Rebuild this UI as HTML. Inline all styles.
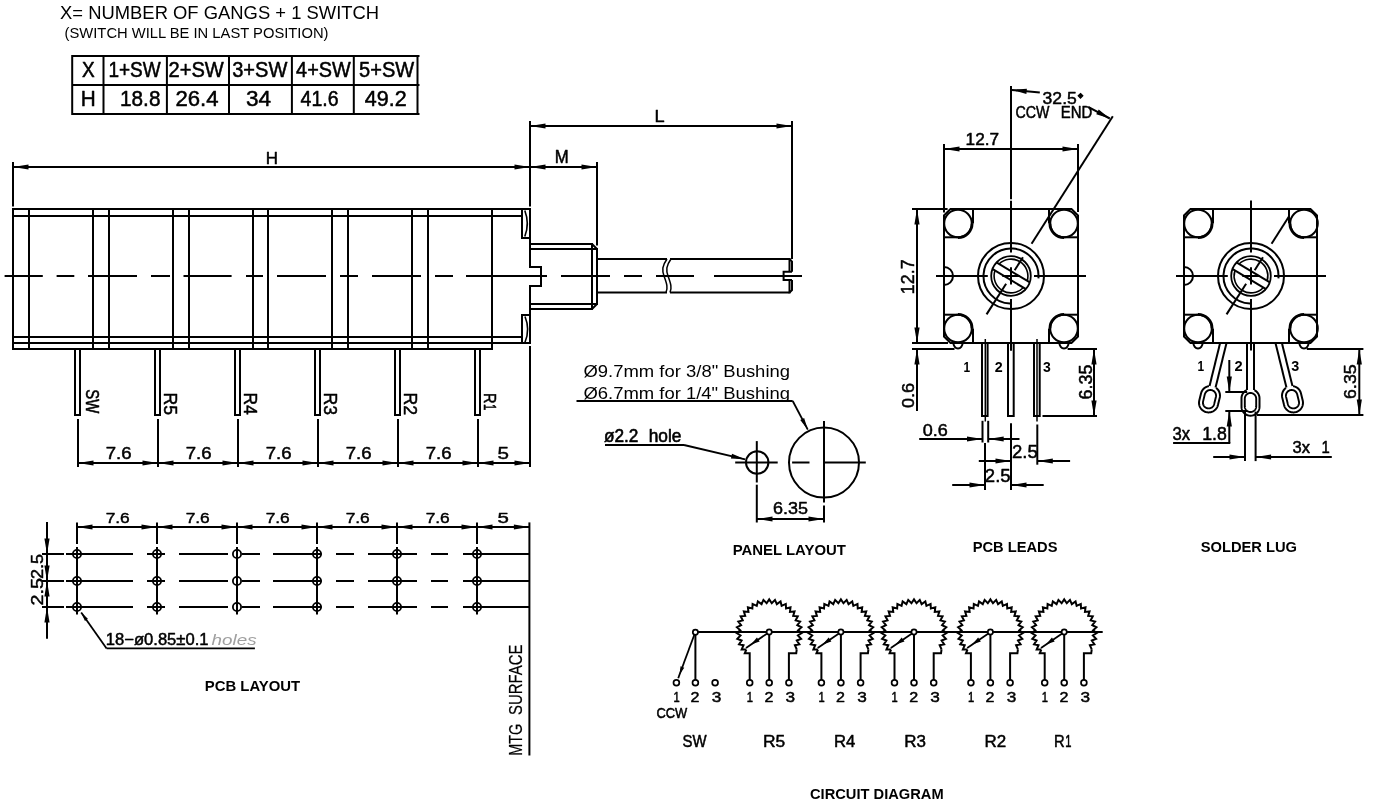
<!DOCTYPE html>
<html><head><meta charset="utf-8"><style>
html,body{margin:0;padding:0;background:#fff;width:1373px;height:811px;overflow:hidden}
svg{display:block;will-change:transform}
</style></head><body>
<svg width="1373" height="811" viewBox="0 0 1373 811">
<g stroke="#000" fill="none" stroke-linecap="butt">
<text transform="translate(60.05,18.50) scale(0.1841,0.1826)" font-family="Liberation Sans" font-size="100" fill="#000" stroke="none">X= NUMBER OF GANGS + 1 SWITCH</text>
<text transform="translate(64.61,38.20) scale(0.1476,0.1464)" font-family="Liberation Sans" font-size="100" fill="#000" stroke="none">(SWITCH WILL BE IN LAST POSITION)</text>
<line x1="72" y1="56" x2="419.5" y2="56" stroke-width="2"/>
<line x1="72" y1="85" x2="419.5" y2="85" stroke-width="2"/>
<line x1="72" y1="114" x2="419.5" y2="114" stroke-width="2"/>
<line x1="72.2" y1="55" x2="72.2" y2="115" stroke-width="2"/>
<line x1="103.5" y1="55" x2="103.5" y2="115" stroke-width="2"/>
<line x1="166.9" y1="55" x2="166.9" y2="115" stroke-width="2"/>
<line x1="229" y1="55" x2="229" y2="115" stroke-width="2"/>
<line x1="291.9" y1="55" x2="291.9" y2="115" stroke-width="2"/>
<line x1="353.8" y1="55" x2="353.8" y2="115" stroke-width="2"/>
<line x1="417.5" y1="55" x2="417.5" y2="115" stroke-width="2"/>
<text transform="translate(81.93,76.90) scale(0.1902,0.2145)" font-family="Liberation Sans" font-size="100" fill="#000" stroke="#000" stroke-width="0.5" vector-effect="non-scaling-stroke" stroke-linejoin="round">X</text>
<text transform="translate(80.84,106.20) scale(0.2071,0.2203)" font-family="Liberation Sans" font-size="100" fill="#000" stroke="#000" stroke-width="0.5" vector-effect="non-scaling-stroke" stroke-linejoin="round">H</text>
<text transform="translate(108.38,76.90) scale(0.1903,0.2145)" font-family="Liberation Sans" font-size="100" fill="#000" stroke="#000" stroke-width="0.5" vector-effect="non-scaling-stroke" stroke-linejoin="round">1+SW</text>
<text transform="translate(168.49,76.90) scale(0.2011,0.2145)" font-family="Liberation Sans" font-size="100" fill="#000" stroke="#000" stroke-width="0.5" vector-effect="non-scaling-stroke" stroke-linejoin="round">2+SW</text>
<text transform="translate(232.20,76.90) scale(0.2004,0.2145)" font-family="Liberation Sans" font-size="100" fill="#000" stroke="#000" stroke-width="0.5" vector-effect="non-scaling-stroke" stroke-linejoin="round">3+SW</text>
<text transform="translate(296.10,76.90) scale(0.1985,0.2145)" font-family="Liberation Sans" font-size="100" fill="#000" stroke="#000" stroke-width="0.5" vector-effect="non-scaling-stroke" stroke-linejoin="round">4+SW</text>
<text transform="translate(359.10,76.90) scale(0.2004,0.2145)" font-family="Liberation Sans" font-size="100" fill="#000" stroke="#000" stroke-width="0.5" vector-effect="non-scaling-stroke" stroke-linejoin="round">5+SW</text>
<text transform="translate(120.04,106.20) scale(0.2077,0.2203)" font-family="Liberation Sans" font-size="100" fill="#000" stroke="#000" stroke-width="0.5" vector-effect="non-scaling-stroke" stroke-linejoin="round">18.8</text>
<text transform="translate(175.39,106.20) scale(0.2214,0.2203)" font-family="Liberation Sans" font-size="100" fill="#000" stroke="#000" stroke-width="0.5" vector-effect="non-scaling-stroke" stroke-linejoin="round">26.4</text>
<text transform="translate(245.90,106.20) scale(0.2257,0.2203)" font-family="Liberation Sans" font-size="100" fill="#000" stroke="#000" stroke-width="0.5" vector-effect="non-scaling-stroke" stroke-linejoin="round">34</text>
<text transform="translate(300.61,106.20) scale(0.1952,0.2203)" font-family="Liberation Sans" font-size="100" fill="#000" stroke="#000" stroke-width="0.5" vector-effect="non-scaling-stroke" stroke-linejoin="round">41.6</text>
<text transform="translate(364.87,106.20) scale(0.2154,0.2203)" font-family="Liberation Sans" font-size="100" fill="#000" stroke="#000" stroke-width="0.5" vector-effect="non-scaling-stroke" stroke-linejoin="round">49.2</text>
<line x1="12" y1="209" x2="531" y2="209" stroke-width="2"/>
<line x1="13" y1="216" x2="522" y2="216" stroke-width="2"/>
<line x1="13" y1="337" x2="522" y2="337" stroke-width="2"/>
<line x1="13" y1="343" x2="531" y2="343" stroke-width="2"/>
<line x1="12" y1="349" x2="493" y2="349" stroke-width="2"/>
<line x1="13" y1="208" x2="13" y2="350" stroke-width="2"/>
<line x1="29" y1="208" x2="29" y2="350" stroke-width="2"/>
<line x1="93" y1="208" x2="93" y2="350" stroke-width="2"/>
<line x1="109" y1="208" x2="109" y2="350" stroke-width="2"/>
<line x1="173" y1="208" x2="173" y2="350" stroke-width="2"/>
<line x1="189" y1="208" x2="189" y2="350" stroke-width="2"/>
<line x1="253" y1="208" x2="253" y2="350" stroke-width="2"/>
<line x1="268" y1="208" x2="268" y2="350" stroke-width="2"/>
<line x1="332" y1="208" x2="332" y2="350" stroke-width="2"/>
<line x1="348" y1="208" x2="348" y2="350" stroke-width="2"/>
<line x1="412" y1="208" x2="412" y2="350" stroke-width="2"/>
<line x1="428" y1="208" x2="428" y2="350" stroke-width="2"/>
<line x1="492" y1="208" x2="492" y2="350" stroke-width="2"/>
<line x1="530" y1="208" x2="530" y2="267.5" stroke-width="2"/>
<line x1="530" y1="285" x2="530" y2="344" stroke-width="2"/>
<polyline points="522.00,208.00 522.00,238.00 530.00,238.00" stroke-width="2" fill="none"/>
<path d="M524.8,210.5 Q529.8,223.5 524.8,236.5" stroke-width="1.6" fill="none"/>
<polyline points="530.00,315.00 522.00,315.00 522.00,344.00" stroke-width="2" fill="none"/>
<path d="M525,316.5 Q530.3,329.5 525,342.2" stroke-width="1.6" fill="none"/>
<line x1="530" y1="244" x2="592" y2="244" stroke-width="2"/>
<line x1="530" y1="249" x2="597" y2="249" stroke-width="2"/>
<line x1="530" y1="304" x2="597" y2="304" stroke-width="2"/>
<line x1="530" y1="309" x2="592" y2="309" stroke-width="2"/>
<line x1="592" y1="243" x2="592" y2="310" stroke-width="2"/>
<line x1="597" y1="248" x2="597" y2="305" stroke-width="2"/>
<line x1="592" y1="244" x2="597" y2="249" stroke-width="2"/>
<line x1="592" y1="309" x2="597" y2="304" stroke-width="2"/>
<polyline points="529.00,267.00 541.00,267.00 541.00,286.00 529.00,286.00" stroke-width="2" fill="none"/>
<line x1="597" y1="259" x2="667" y2="259" stroke-width="2"/>
<line x1="597" y1="292.5" x2="667" y2="292.5" stroke-width="2"/>
<line x1="670" y1="259" x2="789.5" y2="259" stroke-width="2"/>
<line x1="670" y1="292.5" x2="789.5" y2="292.5" stroke-width="2"/>
<path d="M667,259 C662,266 662,270 664,276 C667,284 668,288 666,292.5" stroke-width="1.5" fill="none"/>
<path d="M671,259 C666,266 666,270 668,276 C671,284 672,288 670,292.5" stroke-width="1.5" fill="none"/>
<line x1="789.5" y1="258" x2="789.5" y2="271.7" stroke-width="2"/>
<line x1="789.5" y1="280" x2="789.5" y2="293.5" stroke-width="2"/>
<polyline points="789.50,259.00 792.00,261.60 792.00,271.70" stroke-width="2" fill="none"/>
<polyline points="792.00,280.00 792.00,290.00 789.50,292.50" stroke-width="2" fill="none"/>
<polyline points="792.00,271.70 783.60,271.70 783.60,280.00 792.00,280.00" stroke-width="2" fill="none"/>
<line x1="4.6" y1="276" x2="42.8" y2="276" stroke-width="2"/>
<line x1="56.6" y1="276" x2="74.3" y2="276" stroke-width="2"/>
<line x1="88" y1="276" x2="137" y2="276" stroke-width="2"/>
<line x1="151" y1="276" x2="170" y2="276" stroke-width="2"/>
<line x1="183.5" y1="276" x2="231.6" y2="276" stroke-width="2"/>
<line x1="246" y1="276" x2="263" y2="276" stroke-width="2"/>
<line x1="277" y1="276" x2="326" y2="276" stroke-width="2"/>
<line x1="340" y1="276" x2="358" y2="276" stroke-width="2"/>
<line x1="372" y1="276" x2="421" y2="276" stroke-width="2"/>
<line x1="435" y1="276" x2="453" y2="276" stroke-width="2"/>
<line x1="466" y1="276" x2="547" y2="276" stroke-width="2"/>
<line x1="561" y1="276" x2="610" y2="276" stroke-width="2"/>
<line x1="624" y1="276" x2="642" y2="276" stroke-width="2"/>
<line x1="656" y1="276" x2="694" y2="276" stroke-width="2"/>
<line x1="714" y1="276" x2="802" y2="276" stroke-width="2"/>
<polyline points="75.00,349.00 75.00,415.00 80.00,415.00 80.00,349.00" stroke-width="2" fill="none"/>
<line x1="78.0" y1="419" x2="78.0" y2="467" stroke-width="2"/>
<polyline points="155.00,349.00 155.00,415.00 160.00,415.00 160.00,349.00" stroke-width="2" fill="none"/>
<line x1="158.0" y1="419" x2="158.0" y2="467" stroke-width="2"/>
<polyline points="235.00,349.00 235.00,415.00 240.00,415.00 240.00,349.00" stroke-width="2" fill="none"/>
<line x1="238.0" y1="419" x2="238.0" y2="467" stroke-width="2"/>
<polyline points="315.00,349.00 315.00,415.00 320.00,415.00 320.00,349.00" stroke-width="2" fill="none"/>
<line x1="318.0" y1="419" x2="318.0" y2="467" stroke-width="2"/>
<polyline points="395.00,349.00 395.00,415.00 400.00,415.00 400.00,349.00" stroke-width="2" fill="none"/>
<line x1="398.0" y1="419" x2="398.0" y2="467" stroke-width="2"/>
<polyline points="475.00,349.00 475.00,415.00 480.00,415.00 480.00,349.00" stroke-width="2" fill="none"/>
<line x1="478.0" y1="419" x2="478.0" y2="467" stroke-width="2"/>
<text transform="translate(86.20,389.26) rotate(90) scale(0.1487,0.1826)" font-family="Liberation Sans" font-size="100" fill="#000" stroke="#000" stroke-width="0.5" vector-effect="non-scaling-stroke" stroke-linejoin="round">SW</text>
<text transform="translate(163.50,392.39) rotate(90) scale(0.1765,0.1884)" font-family="Liberation Sans" font-size="100" fill="#000" stroke="#000" stroke-width="0.5" vector-effect="non-scaling-stroke" stroke-linejoin="round">R5</text>
<text transform="translate(243.50,392.41) rotate(90) scale(0.1735,0.1884)" font-family="Liberation Sans" font-size="100" fill="#000" stroke="#000" stroke-width="0.5" vector-effect="non-scaling-stroke" stroke-linejoin="round">R4</text>
<text transform="translate(323.50,392.39) rotate(90) scale(0.1765,0.1884)" font-family="Liberation Sans" font-size="100" fill="#000" stroke="#000" stroke-width="0.5" vector-effect="non-scaling-stroke" stroke-linejoin="round">R3</text>
<text transform="translate(403.50,392.39) rotate(90) scale(0.1765,0.1884)" font-family="Liberation Sans" font-size="100" fill="#000" stroke="#000" stroke-width="0.5" vector-effect="non-scaling-stroke" stroke-linejoin="round">R2</text>
<text transform="translate(483.80,392.93) rotate(90) scale(0.1458,0.1725)" font-family="Liberation Sans" font-size="100" fill="#000" stroke="#000" stroke-width="0.5" vector-effect="non-scaling-stroke" stroke-linejoin="round">R</text>
<text transform="translate(483.80,403.99) rotate(90) scale(0.1140,0.1725)" font-family="Liberation Sans" font-size="100" fill="#000" stroke="#000" stroke-width="0.5" vector-effect="non-scaling-stroke" stroke-linejoin="round">1</text>
<line x1="530" y1="346" x2="530" y2="467" stroke-width="2"/>
<line x1="78" y1="463" x2="530" y2="463" stroke-width="2"/>
<polygon points="78.00,463.00 93.50,460.40 93.50,465.60" fill="#000" stroke="none"/>
<polygon points="158.00,463.00 142.50,465.60 142.50,460.40" fill="#000" stroke="none"/>
<text transform="translate(105.67,458.50) scale(0.1860,0.1609)" font-family="Liberation Sans" font-size="100" fill="#000" stroke="#000" stroke-width="0.5" vector-effect="non-scaling-stroke" stroke-linejoin="round">7.6</text>
<polygon points="158.00,463.00 173.50,460.40 173.50,465.60" fill="#000" stroke="none"/>
<polygon points="238.00,463.00 222.50,465.60 222.50,460.40" fill="#000" stroke="none"/>
<text transform="translate(185.67,458.50) scale(0.1860,0.1609)" font-family="Liberation Sans" font-size="100" fill="#000" stroke="#000" stroke-width="0.5" vector-effect="non-scaling-stroke" stroke-linejoin="round">7.6</text>
<polygon points="238.00,463.00 253.50,460.40 253.50,465.60" fill="#000" stroke="none"/>
<polygon points="318.00,463.00 302.50,465.60 302.50,460.40" fill="#000" stroke="none"/>
<text transform="translate(265.67,458.50) scale(0.1860,0.1609)" font-family="Liberation Sans" font-size="100" fill="#000" stroke="#000" stroke-width="0.5" vector-effect="non-scaling-stroke" stroke-linejoin="round">7.6</text>
<polygon points="318.00,463.00 333.50,460.40 333.50,465.60" fill="#000" stroke="none"/>
<polygon points="398.00,463.00 382.50,465.60 382.50,460.40" fill="#000" stroke="none"/>
<text transform="translate(345.67,458.50) scale(0.1860,0.1609)" font-family="Liberation Sans" font-size="100" fill="#000" stroke="#000" stroke-width="0.5" vector-effect="non-scaling-stroke" stroke-linejoin="round">7.6</text>
<polygon points="398.00,463.00 413.50,460.40 413.50,465.60" fill="#000" stroke="none"/>
<polygon points="478.00,463.00 462.50,465.60 462.50,460.40" fill="#000" stroke="none"/>
<text transform="translate(425.67,458.50) scale(0.1860,0.1609)" font-family="Liberation Sans" font-size="100" fill="#000" stroke="#000" stroke-width="0.5" vector-effect="non-scaling-stroke" stroke-linejoin="round">7.6</text>
<polygon points="530.00,463.00 514.50,465.60 514.50,460.40" fill="#000" stroke="none"/>
<polygon points="478.00,463.00 493.50,460.40 493.50,465.60" fill="#000" stroke="none"/>
<text transform="translate(497.47,459.30) scale(0.2064,0.1710)" font-family="Liberation Sans" font-size="100" fill="#000" stroke="#000" stroke-width="0.5" vector-effect="non-scaling-stroke" stroke-linejoin="round">5</text>
<line x1="13" y1="162" x2="13" y2="206.5" stroke-width="2"/>
<line x1="13" y1="167" x2="530" y2="167" stroke-width="2"/>
<polygon points="13.00,167.00 28.50,164.40 28.50,169.60" fill="#000" stroke="none"/>
<polygon points="530.00,167.00 514.50,169.60 514.50,164.40" fill="#000" stroke="none"/>
<text transform="translate(265.84,163.90) scale(0.1696,0.1696)" font-family="Liberation Sans" font-size="100" fill="#000" stroke="#000" stroke-width="0.5" vector-effect="non-scaling-stroke" stroke-linejoin="round">H</text>
<line x1="530" y1="121" x2="530" y2="206.5" stroke-width="2"/>
<line x1="792" y1="121" x2="792" y2="259" stroke-width="2"/>
<line x1="530" y1="126" x2="792" y2="126" stroke-width="2"/>
<polygon points="530.00,126.00 545.50,123.40 545.50,128.60" fill="#000" stroke="none"/>
<polygon points="792.00,126.00 776.50,128.60 776.50,123.40" fill="#000" stroke="none"/>
<text transform="translate(654.55,121.80) scale(0.1818,0.1638)" font-family="Liberation Sans" font-size="100" fill="#000" stroke="#000" stroke-width="0.5" vector-effect="non-scaling-stroke" stroke-linejoin="round">L</text>
<line x1="597" y1="162" x2="597" y2="245.5" stroke-width="2"/>
<line x1="530" y1="167" x2="597" y2="167" stroke-width="2"/>
<polygon points="530.00,167.00 545.50,164.40 545.50,169.60" fill="#000" stroke="none"/>
<polygon points="597.00,167.00 581.50,169.60 581.50,164.40" fill="#000" stroke="none"/>
<text transform="translate(554.66,163.40) scale(0.1672,0.1754)" font-family="Liberation Sans" font-size="100" fill="#000" stroke="#000" stroke-width="0.5" vector-effect="non-scaling-stroke" stroke-linejoin="round">M</text>
<polygon points="950.50,209.00 1071.50,209.00 1078.00,215.50 1078.00,336.50 1071.50,343.00 950.50,343.00 944.00,336.50 944.00,215.50" stroke-width="2" fill="none"/>
<circle cx="958" cy="223.5" r="13.8" stroke-width="2" fill="none"/>
<line x1="973" y1="209" x2="973" y2="223.5" stroke-width="2"/>
<line x1="944" y1="237.3" x2="958" y2="237.3" stroke-width="2"/>
<path d="M972.10,223.50 A14.100000000000001,14.100000000000001 0 0 1 958.00,237.60" stroke-width="2.8" fill="none"/>
<circle cx="958" cy="328.5" r="13.8" stroke-width="2" fill="none"/>
<line x1="973" y1="343" x2="973" y2="328.5" stroke-width="2"/>
<line x1="944" y1="314.7" x2="958" y2="314.7" stroke-width="2"/>
<path d="M958.00,314.40 A14.100000000000001,14.100000000000001 0 0 1 972.10,328.50" stroke-width="2.8" fill="none"/>
<circle cx="1064" cy="223.5" r="13.8" stroke-width="2" fill="none"/>
<line x1="1049" y1="209" x2="1049" y2="223.5" stroke-width="2"/>
<line x1="1078" y1="237.3" x2="1064" y2="237.3" stroke-width="2"/>
<path d="M1064.00,237.60 A14.100000000000001,14.100000000000001 0 0 1 1049.90,223.50" stroke-width="2.8" fill="none"/>
<circle cx="1064" cy="328.5" r="13.8" stroke-width="2" fill="none"/>
<line x1="1049" y1="343" x2="1049" y2="328.5" stroke-width="2"/>
<line x1="1078" y1="314.7" x2="1064" y2="314.7" stroke-width="2"/>
<path d="M1049.90,328.50 A14.100000000000001,14.100000000000001 0 0 1 1064.00,314.40" stroke-width="2.8" fill="none"/>
<path d="M944,267 A9,9 0 0 1 944,285" stroke-width="2" fill="none"/>
<path d="M953.4,343 A4.6,5.6 0 0 0 962.6,343" stroke-width="2" fill="none"/>
<path d="M1059.4,343 A4.6,5.6 0 0 0 1068.6,343" stroke-width="2" fill="none"/>
<circle cx="1011" cy="276" r="33" stroke-width="2" fill="none"/>
<path d="M1010.04,303.48 A27.5,27.5 0 1 1 1038.40,278.40" stroke-width="2" fill="none"/>
<circle cx="1011" cy="276" r="19.8" stroke-width="1.8" fill="none"/>
<path d="M1022.95,287.95 A16.9,16.9 0 0 1 994.84,271.06" stroke-width="1.6" fill="none"/>
<path d="M999.05,264.05 A16.9,16.9 0 0 1 1027.16,280.94" stroke-width="1.6" fill="none"/>
<line x1="996.84" y1="262.59" x2="1029.49" y2="282.21" stroke-width="2"/>
<line x1="992.72" y1="269.22" x2="1025.57" y2="288.96" stroke-width="2"/>
<line x1="1011" y1="267.2" x2="1011" y2="284.6" stroke-width="2"/>
<line x1="1002.3" y1="276" x2="1019.6" y2="276" stroke-width="2"/>
<line x1="936" y1="276" x2="987.8" y2="276" stroke-width="2"/>
<line x1="1034" y1="276" x2="1086" y2="276" stroke-width="2"/>
<line x1="1011" y1="86" x2="1011" y2="199.2" stroke-width="2"/>
<line x1="1011" y1="200.8" x2="1011" y2="252.5" stroke-width="2"/>
<line x1="1011" y1="299" x2="1011" y2="350.5" stroke-width="2"/>
<line x1="1014.65" y1="270.26" x2="1022.93" y2="257.28" stroke-width="2"/>
<line x1="986.55" y1="314.37" x2="1006.11" y2="283.67" stroke-width="2"/>
<line x1="1031.58" y1="243.7" x2="1112.82" y2="116.18" stroke-width="2"/>
<polygon points="1190.50,209.00 1310.50,209.00 1317.00,215.50 1317.00,336.50 1310.50,343.00 1190.50,343.00 1184.00,336.50 1184.00,215.50" stroke-width="2" fill="none"/>
<circle cx="1198" cy="223.5" r="13.8" stroke-width="2" fill="none"/>
<line x1="1213" y1="209" x2="1213" y2="223.5" stroke-width="2"/>
<line x1="1184" y1="237.3" x2="1198" y2="237.3" stroke-width="2"/>
<path d="M1212.10,223.50 A14.100000000000001,14.100000000000001 0 0 1 1198.00,237.60" stroke-width="2.8" fill="none"/>
<circle cx="1198" cy="328.5" r="13.8" stroke-width="2" fill="none"/>
<line x1="1213" y1="343" x2="1213" y2="328.5" stroke-width="2"/>
<line x1="1184" y1="314.7" x2="1198" y2="314.7" stroke-width="2"/>
<path d="M1198.00,314.40 A14.100000000000001,14.100000000000001 0 0 1 1212.10,328.50" stroke-width="2.8" fill="none"/>
<circle cx="1304" cy="223.5" r="13.8" stroke-width="2" fill="none"/>
<line x1="1289" y1="209" x2="1289" y2="223.5" stroke-width="2"/>
<line x1="1317" y1="237.3" x2="1304" y2="237.3" stroke-width="2"/>
<path d="M1304.00,237.60 A14.100000000000001,14.100000000000001 0 0 1 1289.90,223.50" stroke-width="2.8" fill="none"/>
<circle cx="1304" cy="328.5" r="13.8" stroke-width="2" fill="none"/>
<line x1="1289" y1="343" x2="1289" y2="328.5" stroke-width="2"/>
<line x1="1317" y1="314.7" x2="1304" y2="314.7" stroke-width="2"/>
<path d="M1289.90,328.50 A14.100000000000001,14.100000000000001 0 0 1 1304.00,314.40" stroke-width="2.8" fill="none"/>
<path d="M1184,267 A9,9 0 0 1 1184,285" stroke-width="2" fill="none"/>
<path d="M1193.4,343 A4.6,5.6 0 0 0 1202.6,343" stroke-width="2" fill="none"/>
<path d="M1299.4,343 A4.6,5.6 0 0 0 1308.6,343" stroke-width="2" fill="none"/>
<circle cx="1251" cy="276" r="33" stroke-width="2" fill="none"/>
<path d="M1250.04,303.48 A27.5,27.5 0 1 1 1278.40,278.40" stroke-width="2" fill="none"/>
<circle cx="1251" cy="276" r="19.8" stroke-width="1.8" fill="none"/>
<path d="M1262.95,287.95 A16.9,16.9 0 0 1 1234.84,271.06" stroke-width="1.6" fill="none"/>
<path d="M1239.05,264.05 A16.9,16.9 0 0 1 1267.16,280.94" stroke-width="1.6" fill="none"/>
<line x1="1236.84" y1="262.59" x2="1269.49" y2="282.21" stroke-width="2"/>
<line x1="1232.72" y1="269.22" x2="1265.57" y2="288.96" stroke-width="2"/>
<line x1="1251" y1="267.2" x2="1251" y2="284.6" stroke-width="2"/>
<line x1="1242.3" y1="276" x2="1259.6" y2="276" stroke-width="2"/>
<line x1="1176" y1="276" x2="1227.8" y2="276" stroke-width="2"/>
<line x1="1274" y1="276" x2="1326" y2="276" stroke-width="2"/>
<line x1="1251" y1="200.5" x2="1251" y2="252.5" stroke-width="2"/>
<line x1="1251" y1="299" x2="1251" y2="350.5" stroke-width="2"/>
<line x1="1254.65" y1="270.26" x2="1262.93" y2="257.28" stroke-width="2"/>
<line x1="1226.55" y1="314.37" x2="1246.11" y2="283.67" stroke-width="2"/>
<line x1="1271.58" y1="243.7" x2="1288.93" y2="216.46" stroke-width="2"/>
<line x1="944" y1="144" x2="944" y2="212.5" stroke-width="2"/>
<line x1="1078" y1="144" x2="1078" y2="212" stroke-width="2"/>
<line x1="944" y1="149" x2="1078" y2="149" stroke-width="2"/>
<polygon points="944.00,149.00 959.50,146.40 959.50,151.60" fill="#000" stroke="none"/>
<polygon points="1078.00,149.00 1062.50,151.60 1062.50,146.40" fill="#000" stroke="none"/>
<text transform="translate(965.62,144.70) scale(0.1720,0.1609)" font-family="Liberation Sans" font-size="100" fill="#000" stroke="#000" stroke-width="0.5" vector-effect="non-scaling-stroke" stroke-linejoin="round">12.7</text>
<line x1="912" y1="209" x2="947.6" y2="209" stroke-width="2"/>
<line x1="912" y1="343" x2="948" y2="343" stroke-width="2"/>
<line x1="912" y1="349" x2="954.5" y2="349" stroke-width="2"/>
<line x1="917" y1="209" x2="917" y2="343" stroke-width="2"/>
<polygon points="917.00,209.00 919.60,224.50 914.40,224.50" fill="#000" stroke="none"/>
<polygon points="917.00,343.00 914.40,327.50 919.60,327.50" fill="#000" stroke="none"/>
<polygon points="917.00,349.00 919.60,364.50 914.40,364.50" fill="#000" stroke="none"/>
<line x1="917" y1="349" x2="917" y2="411" stroke-width="2"/>
<text transform="translate(914.10,294.13) rotate(-90) scale(0.1786,0.1826)" font-family="Liberation Sans" font-size="100" fill="#000" stroke="#000" stroke-width="0.5" vector-effect="non-scaling-stroke" stroke-linejoin="round">12.7</text>
<text transform="translate(913.50,408.02) rotate(-90) scale(0.1808,0.1667)" font-family="Liberation Sans" font-size="100" fill="#000" stroke="#000" stroke-width="0.5" vector-effect="non-scaling-stroke" stroke-linejoin="round">0.6</text>
<line x1="1011.7" y1="89.9" x2="1039.8" y2="92.6" stroke-width="2"/>
<polygon points="1011.70,89.90 1026.88,88.75 1026.38,93.92" fill="#000" stroke="none"/>
<text transform="translate(1042.60,103.70) scale(0.1758,0.1652)" font-family="Liberation Sans" font-size="100" fill="#000" stroke="#000" stroke-width="0.5" vector-effect="non-scaling-stroke" stroke-linejoin="round">32.5</text>
<path d="M1080.5,93.5 l2.3,2.3 l-2.3,2.3 l-2.3,-2.3 z" stroke-width="1.2" fill="#000"/>
<text transform="translate(1015.39,118.00) scale(0.1421,0.1725)" font-family="Liberation Sans" font-size="100" fill="#000" stroke="#000" stroke-width="0.5" vector-effect="non-scaling-stroke" stroke-linejoin="round">CCW</text>
<text transform="translate(1060.80,118.00) scale(0.1495,0.1725)" font-family="Liberation Sans" font-size="100" fill="#000" stroke="#000" stroke-width="0.5" vector-effect="non-scaling-stroke" stroke-linejoin="round">END</text>
<line x1="1088.6" y1="107.1" x2="1109.8" y2="118.5" stroke-width="2"/>
<polygon points="1109.80,118.50 1096.24,114.16 1098.70,109.58" fill="#000" stroke="none"/>
<polyline points="982.00,343.00 982.00,416.00 987.60,416.00 987.60,343.00" stroke-width="2" fill="none"/>
<line x1="985.3" y1="339" x2="985.3" y2="421.5" stroke-width="1.5"/>
<polyline points="1008.00,343.00 1008.00,416.00 1013.70,416.00 1013.70,343.00" stroke-width="2" fill="none"/>
<polyline points="1034.00,343.00 1034.00,416.00 1039.70,416.00 1039.70,343.00" stroke-width="2" fill="none"/>
<line x1="1037" y1="339" x2="1037" y2="421.5" stroke-width="1.5"/>
<line x1="1011" y1="299" x2="1011" y2="350.5" stroke-width="2"/>
<text transform="translate(963.49,371.60) scale(0.1191,0.1420)" font-family="Liberation Sans" font-size="100" font-weight="bold" fill="#000" stroke="none">1</text>
<text transform="translate(994.77,371.60) scale(0.1429,0.1420)" font-family="Liberation Sans" font-size="100" font-weight="bold" fill="#000" stroke="none">2</text>
<text transform="translate(1042.92,371.60) scale(0.1400,0.1420)" font-family="Liberation Sans" font-size="100" font-weight="bold" fill="#000" stroke="none">3</text>
<line x1="1067.6" y1="349" x2="1097" y2="349" stroke-width="2"/>
<line x1="1042.5" y1="416" x2="1097" y2="416" stroke-width="2"/>
<line x1="1094" y1="349" x2="1094" y2="416" stroke-width="2"/>
<polygon points="1094.00,349.00 1096.60,364.50 1091.40,364.50" fill="#000" stroke="none"/>
<polygon points="1094.00,416.00 1091.40,400.50 1096.60,400.50" fill="#000" stroke="none"/>
<text transform="translate(1092.30,399.50) rotate(-90) scale(0.1795,0.1855)" font-family="Liberation Sans" font-size="100" fill="#000" stroke="#000" stroke-width="0.5" vector-effect="non-scaling-stroke" stroke-linejoin="round">6.35</text>
<line x1="982.5" y1="420.8" x2="982.5" y2="442.5" stroke-width="2"/>
<line x1="988.2" y1="420.8" x2="988.2" y2="442.5" stroke-width="2"/>
<line x1="919.2" y1="439" x2="982.5" y2="439" stroke-width="2"/>
<polygon points="982.50,439.00 967.00,441.60 967.00,436.40" fill="#000" stroke="none"/>
<line x1="988.2" y1="439" x2="1019.5" y2="439" stroke-width="2"/>
<polygon points="988.20,439.00 1003.70,436.40 1003.70,441.60" fill="#000" stroke="none"/>
<text transform="translate(922.68,435.60) scale(0.1800,0.1609)" font-family="Liberation Sans" font-size="100" fill="#000" stroke="#000" stroke-width="0.5" vector-effect="non-scaling-stroke" stroke-linejoin="round">0.6</text>
<line x1="1011" y1="423.3" x2="1011" y2="490" stroke-width="2"/>
<line x1="1037.3" y1="424.5" x2="1037.3" y2="464.7" stroke-width="2"/>
<line x1="978.8" y1="461" x2="1011" y2="461" stroke-width="2"/>
<polygon points="1011.00,461.00 995.50,463.60 995.50,458.40" fill="#000" stroke="none"/>
<line x1="1037.3" y1="461" x2="1070.1" y2="461" stroke-width="2"/>
<polygon points="1037.30,461.00 1052.80,458.40 1052.80,463.60" fill="#000" stroke="none"/>
<text transform="translate(1011.97,457.80) scale(0.1853,0.1783)" font-family="Liberation Sans" font-size="100" fill="#000" stroke="#000" stroke-width="0.5" vector-effect="non-scaling-stroke" stroke-linejoin="round">2.5</text>
<line x1="985" y1="443" x2="985" y2="490" stroke-width="2"/>
<line x1="952.2" y1="485" x2="985" y2="485" stroke-width="2"/>
<polygon points="985.00,485.00 969.50,487.60 969.50,482.40" fill="#000" stroke="none"/>
<line x1="1011" y1="485" x2="1043.7" y2="485" stroke-width="2"/>
<polygon points="1011.00,485.00 1026.50,482.40 1026.50,487.60" fill="#000" stroke="none"/>
<text transform="translate(984.87,482.00) scale(0.1853,0.1783)" font-family="Liberation Sans" font-size="100" fill="#000" stroke="#000" stroke-width="0.5" vector-effect="non-scaling-stroke" stroke-linejoin="round">2.5</text>
<text transform="translate(972.67,552.30) scale(0.1469,0.1551)" font-family="Liberation Sans" font-size="100" font-weight="bold" fill="#000" stroke="none">PCB LEADS</text>
<text transform="translate(1200.66,552.30) scale(0.1471,0.1551)" font-family="Liberation Sans" font-size="100" font-weight="bold" fill="#000" stroke="none">SOLDER LUG</text>
<polyline points="1216.07,387.87 1216.56,388.26 1217.03,388.68 1217.47,389.13 1217.87,389.60 1218.25,390.11 1218.59,390.63 1218.90,391.18 1219.17,391.75 1219.41,392.33 1219.60,392.93 1219.76,393.54 1219.87,394.15 1219.95,394.78 1219.98,395.41 1219.97,396.03 1219.92,396.66 1219.84,397.28 1219.71,397.90 1217.94,405.08 1217.77,405.69 1217.56,406.28 1217.31,406.86 1217.03,407.42 1216.71,407.96 1216.35,408.48 1215.97,408.97 1215.55,409.44 1215.10,409.88 1214.62,410.29 1214.12,410.66 1213.59,411.00 1213.04,411.31 1212.48,411.58 1211.89,411.82 1211.30,412.01 1210.69,412.17 1210.07,412.28 1209.45,412.36 1208.82,412.39 1208.19,412.38 1207.56,412.34 1206.94,412.25 1206.33,412.12 1205.72,411.95 1205.13,411.74 1204.55,411.49 1203.99,411.21 1203.45,410.89 1202.93,410.53 1202.44,410.14 1201.97,409.72 1201.53,409.27 1201.13,408.80 1200.75,408.29 1200.41,407.77 1200.10,407.22 1199.83,406.65 1199.59,406.07 1199.40,405.47 1199.24,404.86 1199.13,404.25 1199.05,403.62 1199.02,402.99 1199.03,402.37 1199.08,401.74 1199.16,401.12 1199.29,400.50 1201.06,393.32 1201.23,392.71 1201.44,392.12 1201.69,391.54 1201.97,390.98 1202.29,390.44 1202.65,389.92 1203.03,389.43 1203.45,388.96 1203.90,388.52 1204.38,388.11 1204.88,387.74 1205.41,387.40 1205.96,387.09 1206.52,386.82 1207.11,386.58 1207.70,386.39 1208.31,386.23 1208.93,386.12" stroke-width="2" fill="none"/>
<polyline points="1204.82,394.34 1204.92,393.99 1205.05,393.63 1205.19,393.29 1205.36,392.96 1205.55,392.64 1205.76,392.33 1206.00,392.04 1206.24,391.76 1206.51,391.50 1206.79,391.26 1207.09,391.03 1207.41,390.83 1207.73,390.65 1208.07,390.48 1208.41,390.35 1208.77,390.23 1209.13,390.14 1209.50,390.07 1209.87,390.03 1210.24,390.01 1210.61,390.01 1210.98,390.04 1211.35,390.09 1211.72,390.17 1212.08,390.27 1212.43,390.39 1212.77,390.54 1213.10,390.71 1213.43,390.90 1213.73,391.11 1214.03,391.34 1214.30,391.59 1214.56,391.86 1214.81,392.14 1215.03,392.44 1215.23,392.75 1215.42,393.08 1215.58,393.41 1215.72,393.76 1215.83,394.11 1215.92,394.48 1215.99,394.84 1216.04,395.21 1216.06,395.58 1216.05,395.96 1216.02,396.33 1215.97,396.70 1215.89,397.06 1214.18,404.06 1214.08,404.41 1213.95,404.77 1213.81,405.11 1213.64,405.44 1213.45,405.76 1213.24,406.07 1213.00,406.36 1212.76,406.64 1212.49,406.90 1212.21,407.14 1211.91,407.37 1211.59,407.57 1211.27,407.75 1210.93,407.92 1210.59,408.05 1210.23,408.17 1209.87,408.26 1209.50,408.33 1209.13,408.37 1208.76,408.39 1208.39,408.39 1208.02,408.36 1207.65,408.31 1207.28,408.23 1206.92,408.13 1206.57,408.01 1206.23,407.86 1205.90,407.69 1205.57,407.50 1205.27,407.29 1204.97,407.06 1204.70,406.81 1204.44,406.54 1204.19,406.26 1203.97,405.96 1203.77,405.65 1203.58,405.32 1203.42,404.99 1203.28,404.64 1203.17,404.29 1203.08,403.92 1203.01,403.56 1202.96,403.19 1202.94,402.82 1202.95,402.44 1202.98,402.07 1203.03,401.70 1203.11,401.34 1204.82,394.34" stroke-width="1.9" fill="none"/>
<line x1="1209.54" y1="386.04" x2="1220.11" y2="343" stroke-width="2"/>
<line x1="1215.56" y1="387.52" x2="1226.5" y2="343" stroke-width="2"/>
<polyline points="1254.48,390.23 1255.00,390.51 1255.50,390.82 1255.98,391.16 1256.43,391.53 1256.86,391.94 1257.27,392.37 1257.64,392.82 1257.98,393.30 1258.29,393.80 1258.57,394.32 1258.81,394.86 1259.02,395.41 1259.19,395.97 1259.33,396.54 1259.42,397.13 1259.48,397.71 1259.50,398.30 1259.50,406.70 1259.48,407.29 1259.42,407.87 1259.33,408.46 1259.19,409.03 1259.02,409.59 1258.81,410.14 1258.57,410.68 1258.29,411.20 1257.98,411.70 1257.64,412.18 1257.27,412.63 1256.86,413.06 1256.43,413.47 1255.98,413.84 1255.50,414.18 1255.00,414.49 1254.48,414.77 1253.94,415.01 1253.39,415.22 1252.83,415.39 1252.26,415.53 1251.67,415.62 1251.09,415.68 1250.50,415.70 1249.91,415.68 1249.33,415.62 1248.74,415.53 1248.17,415.39 1247.61,415.22 1247.06,415.01 1246.52,414.77 1246.00,414.49 1245.50,414.18 1245.02,413.84 1244.57,413.47 1244.14,413.06 1243.73,412.63 1243.36,412.18 1243.02,411.70 1242.71,411.20 1242.43,410.68 1242.19,410.14 1241.98,409.59 1241.81,409.03 1241.67,408.46 1241.58,407.87 1241.52,407.29 1241.50,406.70 1241.50,398.30 1241.52,397.71 1241.58,397.13 1241.67,396.54 1241.81,395.97 1241.98,395.41 1242.19,394.86 1242.43,394.32 1242.71,393.80 1243.02,393.30 1243.36,392.82 1243.73,392.37 1244.14,391.94 1244.57,391.53 1245.02,391.16 1245.50,390.82 1246.00,390.51 1246.52,390.23" stroke-width="2" fill="none"/>
<polyline points="1244.80,398.70 1244.81,398.33 1244.85,397.96 1244.91,397.59 1244.99,397.22 1245.10,396.87 1245.23,396.52 1245.39,396.18 1245.56,395.85 1245.76,395.53 1245.98,395.23 1246.21,394.94 1246.47,394.67 1246.74,394.41 1247.03,394.18 1247.33,393.96 1247.65,393.76 1247.98,393.59 1248.32,393.43 1248.67,393.30 1249.02,393.19 1249.39,393.11 1249.76,393.05 1250.13,393.01 1250.50,393.00 1250.87,393.01 1251.24,393.05 1251.61,393.11 1251.98,393.19 1252.33,393.30 1252.68,393.43 1253.02,393.59 1253.35,393.76 1253.67,393.96 1253.97,394.18 1254.26,394.41 1254.53,394.67 1254.79,394.94 1255.02,395.23 1255.24,395.53 1255.44,395.85 1255.61,396.18 1255.77,396.52 1255.90,396.87 1256.01,397.22 1256.09,397.59 1256.15,397.96 1256.19,398.33 1256.20,398.70 1256.20,406.30 1256.19,406.67 1256.15,407.04 1256.09,407.41 1256.01,407.78 1255.90,408.13 1255.77,408.48 1255.61,408.82 1255.44,409.15 1255.24,409.47 1255.02,409.77 1254.79,410.06 1254.53,410.33 1254.26,410.59 1253.97,410.82 1253.67,411.04 1253.35,411.24 1253.02,411.41 1252.68,411.57 1252.33,411.70 1251.98,411.81 1251.61,411.89 1251.24,411.95 1250.87,411.99 1250.50,412.00 1250.13,411.99 1249.76,411.95 1249.39,411.89 1249.02,411.81 1248.67,411.70 1248.32,411.57 1247.98,411.41 1247.65,411.24 1247.33,411.04 1247.03,410.82 1246.74,410.59 1246.47,410.33 1246.21,410.06 1245.98,409.77 1245.76,409.47 1245.56,409.15 1245.39,408.82 1245.23,408.48 1245.10,408.13 1244.99,407.78 1244.91,407.41 1244.85,407.04 1244.81,406.67 1244.80,406.30 1244.80,398.70" stroke-width="1.9" fill="none"/>
<line x1="1247.0" y1="390.01" x2="1247.0" y2="343" stroke-width="2"/>
<line x1="1254.0" y1="390.01" x2="1254.0" y2="343" stroke-width="2"/>
<polyline points="1293.07,386.12 1293.69,386.23 1294.30,386.39 1294.89,386.58 1295.48,386.82 1296.04,387.09 1296.59,387.40 1297.12,387.74 1297.62,388.11 1298.10,388.52 1298.55,388.96 1298.97,389.43 1299.35,389.92 1299.71,390.44 1300.03,390.98 1300.31,391.54 1300.56,392.12 1300.77,392.71 1300.94,393.32 1302.71,400.50 1302.84,401.12 1302.92,401.74 1302.97,402.37 1302.98,402.99 1302.95,403.62 1302.87,404.25 1302.76,404.86 1302.60,405.47 1302.41,406.07 1302.17,406.65 1301.90,407.22 1301.59,407.77 1301.25,408.29 1300.87,408.80 1300.47,409.27 1300.03,409.72 1299.56,410.14 1299.07,410.53 1298.55,410.89 1298.01,411.21 1297.45,411.49 1296.87,411.74 1296.28,411.95 1295.67,412.12 1295.06,412.25 1294.44,412.34 1293.81,412.38 1293.18,412.39 1292.55,412.36 1291.93,412.28 1291.31,412.17 1290.70,412.01 1290.11,411.82 1289.52,411.58 1288.96,411.31 1288.41,411.00 1287.88,410.66 1287.38,410.29 1286.90,409.88 1286.45,409.44 1286.03,408.97 1285.65,408.48 1285.29,407.96 1284.97,407.42 1284.69,406.86 1284.44,406.28 1284.23,405.69 1284.06,405.08 1282.29,397.90 1282.16,397.28 1282.08,396.66 1282.03,396.03 1282.02,395.41 1282.05,394.78 1282.13,394.15 1282.24,393.54 1282.40,392.93 1282.59,392.33 1282.83,391.75 1283.10,391.18 1283.41,390.63 1283.75,390.11 1284.13,389.60 1284.53,389.13 1284.97,388.68 1285.44,388.26 1285.93,387.87" stroke-width="2" fill="none"/>
<polyline points="1286.11,397.06 1286.03,396.70 1285.98,396.33 1285.95,395.96 1285.94,395.58 1285.96,395.21 1286.01,394.84 1286.08,394.48 1286.17,394.11 1286.28,393.76 1286.42,393.41 1286.58,393.08 1286.77,392.75 1286.97,392.44 1287.19,392.14 1287.44,391.86 1287.70,391.59 1287.97,391.34 1288.27,391.11 1288.57,390.90 1288.90,390.71 1289.23,390.54 1289.57,390.39 1289.92,390.27 1290.28,390.17 1290.65,390.09 1291.02,390.04 1291.39,390.01 1291.76,390.01 1292.13,390.03 1292.50,390.07 1292.87,390.14 1293.23,390.23 1293.59,390.35 1293.93,390.48 1294.27,390.65 1294.59,390.83 1294.91,391.03 1295.21,391.26 1295.49,391.50 1295.76,391.76 1296.00,392.04 1296.24,392.33 1296.45,392.64 1296.64,392.96 1296.81,393.29 1296.95,393.63 1297.08,393.99 1297.18,394.34 1298.89,401.34 1298.97,401.70 1299.02,402.07 1299.05,402.44 1299.06,402.82 1299.04,403.19 1298.99,403.56 1298.92,403.92 1298.83,404.29 1298.72,404.64 1298.58,404.99 1298.42,405.32 1298.23,405.65 1298.03,405.96 1297.81,406.26 1297.56,406.54 1297.30,406.81 1297.03,407.06 1296.73,407.29 1296.43,407.50 1296.10,407.69 1295.77,407.86 1295.43,408.01 1295.08,408.13 1294.72,408.23 1294.35,408.31 1293.98,408.36 1293.61,408.39 1293.24,408.39 1292.87,408.37 1292.50,408.33 1292.13,408.26 1291.77,408.17 1291.41,408.05 1291.07,407.92 1290.73,407.75 1290.41,407.57 1290.09,407.37 1289.79,407.14 1289.51,406.90 1289.24,406.64 1289.00,406.36 1288.76,406.07 1288.55,405.76 1288.36,405.44 1288.19,405.11 1288.05,404.77 1287.92,404.41 1287.82,404.06 1286.11,397.06" stroke-width="1.9" fill="none"/>
<line x1="1286.44" y1="387.52" x2="1275.5" y2="343" stroke-width="2"/>
<line x1="1292.46" y1="386.04" x2="1281.89" y2="343" stroke-width="2"/>
<text transform="translate(1197.59,371.10) scale(0.1191,0.1449)" font-family="Liberation Sans" font-size="100" font-weight="bold" fill="#000" stroke="none">1</text>
<text transform="translate(1234.56,371.10) scale(0.1469,0.1449)" font-family="Liberation Sans" font-size="100" font-weight="bold" fill="#000" stroke="none">2</text>
<text transform="translate(1291.31,371.10) scale(0.1440,0.1449)" font-family="Liberation Sans" font-size="100" font-weight="bold" fill="#000" stroke="none">3</text>
<line x1="1306.8" y1="349" x2="1363.4" y2="349" stroke-width="2"/>
<line x1="1257" y1="415" x2="1363.4" y2="415" stroke-width="2"/>
<line x1="1359.3" y1="349" x2="1359.3" y2="415" stroke-width="2"/>
<polygon points="1359.30,349.00 1361.90,364.50 1356.70,364.50" fill="#000" stroke="none"/>
<polygon points="1359.30,415.00 1356.70,399.50 1361.90,399.50" fill="#000" stroke="none"/>
<text transform="translate(1355.60,398.89) rotate(-90) scale(0.1778,0.1681)" font-family="Liberation Sans" font-size="100" fill="#000" stroke="#000" stroke-width="0.5" vector-effect="non-scaling-stroke" stroke-linejoin="round">6.35</text>
<line x1="1225.3" y1="392" x2="1247.2" y2="392" stroke-width="2"/>
<line x1="1225.3" y1="411" x2="1247.2" y2="411" stroke-width="2"/>
<line x1="1229.3" y1="360" x2="1229.3" y2="392" stroke-width="2"/>
<polygon points="1229.30,392.00 1226.70,376.50 1231.90,376.50" fill="#000" stroke="none"/>
<line x1="1229.3" y1="411" x2="1229.3" y2="443" stroke-width="2"/>
<polygon points="1229.30,411.00 1231.90,426.50 1226.70,426.50" fill="#000" stroke="none"/>
<line x1="1173.1" y1="443" x2="1230.3" y2="443" stroke-width="2"/>
<text transform="translate(1172.43,439.60) scale(0.1663,0.1754)" font-family="Liberation Sans" font-size="100" fill="#000" stroke="#000" stroke-width="0.5" vector-effect="non-scaling-stroke" stroke-linejoin="round">3x</text>
<text transform="translate(1202.28,439.60) scale(0.1770,0.1754)" font-family="Liberation Sans" font-size="100" fill="#000" stroke="#000" stroke-width="0.5" vector-effect="non-scaling-stroke" stroke-linejoin="round">1.8</text>
<line x1="1245" y1="411.6" x2="1245" y2="461.1" stroke-width="2"/>
<line x1="1255.6" y1="411.6" x2="1255.6" y2="461.1" stroke-width="2"/>
<line x1="1213.2" y1="457" x2="1245" y2="457" stroke-width="2"/>
<polygon points="1245.00,457.00 1229.50,459.60 1229.50,454.40" fill="#000" stroke="none"/>
<line x1="1255.6" y1="457" x2="1331.8" y2="457" stroke-width="2"/>
<polygon points="1255.60,457.00 1271.10,454.40 1271.10,459.60" fill="#000" stroke="none"/>
<text transform="translate(1292.54,453.00) scale(0.1653,0.1609)" font-family="Liberation Sans" font-size="100" fill="#000" stroke="#000" stroke-width="0.5" vector-effect="non-scaling-stroke" stroke-linejoin="round">3x</text>
<text transform="translate(1321.61,453.00) scale(0.1488,0.1609)" font-family="Liberation Sans" font-size="100" fill="#000" stroke="#000" stroke-width="0.5" vector-effect="non-scaling-stroke" stroke-linejoin="round">1</text>
<text transform="translate(583.46,377.20) scale(0.1846,0.1696)" font-family="Liberation Sans" font-size="100" fill="#000" stroke="none">Ø9.7mm for 3/8&quot; Bushing</text>
<text transform="translate(583.46,399.20) scale(0.1846,0.1681)" font-family="Liberation Sans" font-size="100" fill="#000" stroke="none">Ø6.7mm for 1/4&quot; Bushing</text>
<line x1="576.5" y1="401" x2="792.7" y2="401" stroke-width="1.8"/>
<line x1="792.7" y1="401" x2="807.8" y2="429.7" stroke-width="1.8"/>
<polygon points="807.80,429.70 800.27,420.10 804.16,418.06" fill="#000" stroke="none"/>
<circle cx="824" cy="462.6" r="35" stroke-width="2" fill="none"/>
<line x1="824" y1="421.1" x2="824" y2="502.5" stroke-width="2"/>
<line x1="824" y1="505.5" x2="824" y2="522.5" stroke-width="2"/>
<line x1="792.1" y1="462.5" x2="809.5" y2="462.5" stroke-width="2"/>
<line x1="824" y1="462.5" x2="865.8" y2="462.5" stroke-width="2"/>
<circle cx="757.2" cy="462.5" r="11.2" stroke-width="2" fill="none"/>
<line x1="756.8" y1="441.1" x2="756.8" y2="482.5" stroke-width="2"/>
<line x1="756.8" y1="484.7" x2="756.8" y2="522.5" stroke-width="2"/>
<line x1="735.2" y1="462.5" x2="777.7" y2="462.5" stroke-width="2"/>
<text transform="translate(603.88,441.80) scale(0.1724,0.1757)" font-family="Liberation Sans" font-size="100" fill="#000" stroke="#000" stroke-width="0.6" vector-effect="non-scaling-stroke" stroke-linejoin="round">ø2.2</text>
<text transform="translate(648.69,441.80) scale(0.1729,0.1764)" font-family="Liberation Sans" font-size="100" fill="#000" stroke="#000" stroke-width="0.6" vector-effect="non-scaling-stroke" stroke-linejoin="round">hole</text>
<line x1="605" y1="445" x2="684" y2="445" stroke-width="1.8"/>
<line x1="684" y1="445" x2="745.1" y2="459.3" stroke-width="1.8"/>
<polygon points="745.10,459.30 730.92,458.45 732.02,453.77" fill="#000" stroke="none"/>
<line x1="757" y1="519" x2="824" y2="519" stroke-width="2"/>
<polygon points="757.00,519.00 772.50,516.40 772.50,521.60" fill="#000" stroke="none"/>
<polygon points="824.00,519.00 808.50,521.60 808.50,516.40" fill="#000" stroke="none"/>
<text transform="translate(773.10,514.40) scale(0.1800,0.1580)" font-family="Liberation Sans" font-size="100" fill="#000" stroke="#000" stroke-width="0.5" vector-effect="non-scaling-stroke" stroke-linejoin="round">6.35</text>
<text transform="translate(732.66,554.60) scale(0.1493,0.1420)" font-family="Liberation Sans" font-size="100" font-weight="bold" fill="#000" stroke="none">PANEL LAYOUT</text>
<line x1="42" y1="554" x2="64" y2="554" stroke-width="2"/>
<line x1="66" y1="554" x2="133" y2="554" stroke-width="2"/>
<line x1="147" y1="554" x2="165" y2="554" stroke-width="2"/>
<line x1="179" y1="554" x2="228" y2="554" stroke-width="2"/>
<line x1="242" y1="554" x2="260" y2="554" stroke-width="2"/>
<line x1="273" y1="554" x2="321.7" y2="554" stroke-width="2"/>
<line x1="336" y1="554" x2="354" y2="554" stroke-width="2"/>
<line x1="368" y1="554" x2="417" y2="554" stroke-width="2"/>
<line x1="431" y1="554" x2="448" y2="554" stroke-width="2"/>
<line x1="463" y1="554" x2="529" y2="554" stroke-width="2"/>
<line x1="42" y1="581" x2="64" y2="581" stroke-width="2"/>
<line x1="66" y1="581" x2="133" y2="581" stroke-width="2"/>
<line x1="147" y1="581" x2="165" y2="581" stroke-width="2"/>
<line x1="179" y1="581" x2="228" y2="581" stroke-width="2"/>
<line x1="242" y1="581" x2="260" y2="581" stroke-width="2"/>
<line x1="273" y1="581" x2="321.7" y2="581" stroke-width="2"/>
<line x1="336" y1="581" x2="354" y2="581" stroke-width="2"/>
<line x1="368" y1="581" x2="417" y2="581" stroke-width="2"/>
<line x1="431" y1="581" x2="448" y2="581" stroke-width="2"/>
<line x1="463" y1="581" x2="529" y2="581" stroke-width="2"/>
<line x1="42" y1="607" x2="64" y2="607" stroke-width="2"/>
<line x1="66" y1="607" x2="133" y2="607" stroke-width="2"/>
<line x1="147" y1="607" x2="165" y2="607" stroke-width="2"/>
<line x1="179" y1="607" x2="228" y2="607" stroke-width="2"/>
<line x1="242" y1="607" x2="260" y2="607" stroke-width="2"/>
<line x1="273" y1="607" x2="321.7" y2="607" stroke-width="2"/>
<line x1="336" y1="607" x2="354" y2="607" stroke-width="2"/>
<line x1="368" y1="607" x2="417" y2="607" stroke-width="2"/>
<line x1="431" y1="607" x2="448" y2="607" stroke-width="2"/>
<line x1="463" y1="607" x2="529" y2="607" stroke-width="2"/>
<line x1="77" y1="522.5" x2="77" y2="544" stroke-width="2"/>
<line x1="77" y1="547" x2="77" y2="614.5" stroke-width="2"/>
<circle cx="77" cy="554" r="4.1" stroke-width="1.8" fill="none"/>
<circle cx="77" cy="581" r="4.1" stroke-width="1.8" fill="none"/>
<circle cx="77" cy="607" r="4.1" stroke-width="1.8" fill="none"/>
<line x1="157" y1="522.5" x2="157" y2="544" stroke-width="2"/>
<line x1="157" y1="547" x2="157" y2="614.5" stroke-width="2"/>
<circle cx="157" cy="554" r="4.1" stroke-width="1.8" fill="none"/>
<circle cx="157" cy="581" r="4.1" stroke-width="1.8" fill="none"/>
<circle cx="157" cy="607" r="4.1" stroke-width="1.8" fill="none"/>
<line x1="237" y1="522.5" x2="237" y2="544" stroke-width="2"/>
<line x1="237" y1="547" x2="237" y2="614.5" stroke-width="2"/>
<circle cx="237" cy="554" r="4.1" stroke-width="1.8" fill="none"/>
<circle cx="237" cy="581" r="4.1" stroke-width="1.8" fill="none"/>
<circle cx="237" cy="607" r="4.1" stroke-width="1.8" fill="none"/>
<line x1="317" y1="522.5" x2="317" y2="544" stroke-width="2"/>
<line x1="317" y1="547" x2="317" y2="614.5" stroke-width="2"/>
<circle cx="317" cy="554" r="4.1" stroke-width="1.8" fill="none"/>
<circle cx="317" cy="581" r="4.1" stroke-width="1.8" fill="none"/>
<circle cx="317" cy="607" r="4.1" stroke-width="1.8" fill="none"/>
<line x1="397" y1="522.5" x2="397" y2="544" stroke-width="2"/>
<line x1="397" y1="547" x2="397" y2="614.5" stroke-width="2"/>
<circle cx="397" cy="554" r="4.1" stroke-width="1.8" fill="none"/>
<circle cx="397" cy="581" r="4.1" stroke-width="1.8" fill="none"/>
<circle cx="397" cy="607" r="4.1" stroke-width="1.8" fill="none"/>
<line x1="477" y1="522.5" x2="477" y2="544" stroke-width="2"/>
<line x1="477" y1="547" x2="477" y2="614.5" stroke-width="2"/>
<circle cx="477" cy="554" r="4.1" stroke-width="1.8" fill="none"/>
<circle cx="477" cy="581" r="4.1" stroke-width="1.8" fill="none"/>
<circle cx="477" cy="607" r="4.1" stroke-width="1.8" fill="none"/>
<line x1="77" y1="527" x2="529.4" y2="527" stroke-width="2"/>
<polygon points="77.00,527.00 92.50,524.40 92.50,529.60" fill="#000" stroke="none"/>
<polygon points="157.00,527.00 141.50,529.60 141.50,524.40" fill="#000" stroke="none"/>
<text transform="translate(105.63,522.90) scale(0.1736,0.1536)" font-family="Liberation Sans" font-size="100" fill="#000" stroke="#000" stroke-width="0.5" vector-effect="non-scaling-stroke" stroke-linejoin="round">7.6</text>
<polygon points="157.00,527.00 172.50,524.40 172.50,529.60" fill="#000" stroke="none"/>
<polygon points="237.00,527.00 221.50,529.60 221.50,524.40" fill="#000" stroke="none"/>
<text transform="translate(185.63,522.90) scale(0.1736,0.1536)" font-family="Liberation Sans" font-size="100" fill="#000" stroke="#000" stroke-width="0.5" vector-effect="non-scaling-stroke" stroke-linejoin="round">7.6</text>
<polygon points="237.00,527.00 252.50,524.40 252.50,529.60" fill="#000" stroke="none"/>
<polygon points="317.00,527.00 301.50,529.60 301.50,524.40" fill="#000" stroke="none"/>
<text transform="translate(265.63,522.90) scale(0.1736,0.1536)" font-family="Liberation Sans" font-size="100" fill="#000" stroke="#000" stroke-width="0.5" vector-effect="non-scaling-stroke" stroke-linejoin="round">7.6</text>
<polygon points="317.00,527.00 332.50,524.40 332.50,529.60" fill="#000" stroke="none"/>
<polygon points="397.00,527.00 381.50,529.60 381.50,524.40" fill="#000" stroke="none"/>
<text transform="translate(345.63,522.90) scale(0.1736,0.1536)" font-family="Liberation Sans" font-size="100" fill="#000" stroke="#000" stroke-width="0.5" vector-effect="non-scaling-stroke" stroke-linejoin="round">7.6</text>
<polygon points="397.00,527.00 412.50,524.40 412.50,529.60" fill="#000" stroke="none"/>
<polygon points="477.00,527.00 461.50,529.60 461.50,524.40" fill="#000" stroke="none"/>
<text transform="translate(425.63,522.90) scale(0.1736,0.1536)" font-family="Liberation Sans" font-size="100" fill="#000" stroke="#000" stroke-width="0.5" vector-effect="non-scaling-stroke" stroke-linejoin="round">7.6</text>
<polygon points="477.00,527.00 492.50,524.40 492.50,529.60" fill="#000" stroke="none"/>
<polygon points="529.40,527.00 513.90,529.60 513.90,524.40" fill="#000" stroke="none"/>
<text transform="translate(497.48,523.00) scale(0.2043,0.1449)" font-family="Liberation Sans" font-size="100" fill="#000" stroke="#000" stroke-width="0.5" vector-effect="non-scaling-stroke" stroke-linejoin="round">5</text>
<line x1="529.4" y1="522.4" x2="529.4" y2="755.5" stroke-width="2"/>
<line x1="47" y1="522.1" x2="47" y2="638.7" stroke-width="2"/>
<polygon points="47.00,554.00 44.40,538.50 49.60,538.50" fill="#000" stroke="none"/>
<polygon points="47.00,581.00 44.40,565.50 49.60,565.50" fill="#000" stroke="none"/>
<polygon points="47.00,581.00 49.60,596.50 44.40,596.50" fill="#000" stroke="none"/>
<polygon points="47.00,607.00 49.60,622.50 44.40,622.50" fill="#000" stroke="none"/>
<text transform="translate(43.10,579.10) rotate(-90) scale(0.1806,0.1623)" font-family="Liberation Sans" font-size="100" fill="#000" stroke="#000" stroke-width="0.5" vector-effect="non-scaling-stroke" stroke-linejoin="round">2.5</text>
<text transform="translate(43.10,605.59) rotate(-90) scale(0.1977,0.1623)" font-family="Liberation Sans" font-size="100" fill="#000" stroke="#000" stroke-width="0.5" vector-effect="non-scaling-stroke" stroke-linejoin="round">2.5</text>
<line x1="81.2" y1="612.5" x2="106.6" y2="648.4" stroke-width="1.8"/>
<line x1="106.6" y1="648.4" x2="254.9" y2="648.4" stroke-width="1.8"/>
<polygon points="81.20,612.50 87.87,618.81 84.93,620.89" fill="#000" stroke="none"/>
<text transform="translate(105.77,644.60) scale(0.1661,0.1652)" font-family="Liberation Sans" font-size="100" fill="#000" stroke="#000" stroke-width="0.5" vector-effect="non-scaling-stroke" stroke-linejoin="round">18−ø0.85±0.1</text>
<text transform="translate(211.62,644.60) scale(0.1885,0.1486)" font-family="Liberation Sans" font-size="100" font-style="italic" fill="#a0a0a0" stroke="none">holes</text>
<text transform="translate(204.76,690.90) scale(0.1490,0.1536)" font-family="Liberation Sans" font-size="100" font-weight="bold" fill="#000" stroke="none">PCB LAYOUT</text>
<text transform="translate(521.60,755.86) rotate(-90) scale(0.1447,0.1928)" font-family="Liberation Sans" font-size="100" fill="#000" stroke="#000" stroke-width="0.2" vector-effect="non-scaling-stroke" stroke-linejoin="round">MTG</text>
<text transform="translate(521.60,715.05) rotate(-90) scale(0.1492,0.1928)" font-family="Liberation Sans" font-size="100" fill="#000" stroke="#000" stroke-width="0.2" vector-effect="non-scaling-stroke" stroke-linejoin="round">SURFACE</text>
<line x1="698" y1="632" x2="1102.7" y2="632" stroke-width="2"/>
<circle cx="695.4" cy="632.2" r="2.6" stroke-width="1.7" fill="#fff"/>
<line x1="695.4" y1="634.7" x2="695.4" y2="680.2" stroke-width="2"/>
<line x1="694.4" y1="634.5" x2="678.2" y2="678.2" stroke-width="1.8"/>
<polygon points="679.60,674.50 680.53,666.31 684.27,667.71" fill="#000" stroke="none"/>
<circle cx="676.4" cy="682.8" r="2.9" stroke-width="1.7" fill="#fff"/>
<circle cx="695.4" cy="682.8" r="2.9" stroke-width="1.7" fill="#fff"/>
<circle cx="715.1" cy="682.8" r="2.9" stroke-width="1.7" fill="#fff"/>
<text transform="translate(673.51,701.60) scale(0.1116,0.1420)" font-family="Liberation Sans" font-size="100" fill="#000" stroke="#000" stroke-width="0.5" vector-effect="non-scaling-stroke" stroke-linejoin="round">1</text>
<text transform="translate(690.60,701.60) scale(0.1609,0.1420)" font-family="Liberation Sans" font-size="100" fill="#000" stroke="#000" stroke-width="0.5" vector-effect="non-scaling-stroke" stroke-linejoin="round">2</text>
<text transform="translate(711.71,701.60) scale(0.1723,0.1420)" font-family="Liberation Sans" font-size="100" fill="#000" stroke="#000" stroke-width="0.5" vector-effect="non-scaling-stroke" stroke-linejoin="round">3</text>
<text transform="translate(656.45,718.30) scale(0.1292,0.1493)" font-family="Liberation Sans" font-size="100" fill="#000" stroke="#000" stroke-width="0.5" vector-effect="non-scaling-stroke" stroke-linejoin="round">CCW</text>
<text transform="translate(682.55,747.00) scale(0.1494,0.1681)" font-family="Liberation Sans" font-size="100" fill="#000" stroke="#000" stroke-width="0.5" vector-effect="non-scaling-stroke" stroke-linejoin="round">SW</text>
<polyline points="746.27,649.59 741.67,649.47 743.52,645.25 739.02,644.32 741.58,640.50 737.31,638.78 740.51,635.47 736.62,633.02 740.35,630.34 736.95,627.24 741.10,625.25 738.30,621.60 742.74,620.38 740.63,616.29 745.21,615.88 743.87,611.48 748.45,611.89 747.90,607.32 752.34,608.53 752.61,603.94 756.76,605.92 757.84,601.44 761.57,604.12 763.43,599.92 766.63,603.21 769.20,599.40 771.77,603.21 774.97,599.92 776.83,604.12 780.56,601.44 781.64,605.92 785.79,603.94 786.06,608.53 790.50,607.32 789.95,611.89 794.53,611.48 793.19,615.88 797.77,616.29 795.66,620.38 800.10,621.60 797.30,625.25 801.45,627.24 798.05,630.34 801.78,633.02 797.89,635.47 801.09,638.78 796.82,640.50 799.38,644.32 794.88,645.25 796.73,649.47" stroke-width="2" fill="none"/>
<polyline points="746.27,649.59 744.77,653.30 749.70,653.30 749.70,680.20" stroke-width="2" fill="none"/>
<polyline points="796.73,649.47 796.23,653.30 788.90,653.30 788.90,680.20" stroke-width="2" fill="none"/>
<circle cx="769.2" cy="632" r="2.6" stroke-width="1.7" fill="#fff"/>
<line x1="769.2" y1="634.5" x2="769.2" y2="680.2" stroke-width="2"/>
<line x1="767.2" y1="633.4" x2="746.0" y2="648" stroke-width="1.8"/>
<polygon points="750.90,644.60 756.95,637.51 759.67,641.47" fill="#000" stroke="none"/>
<circle cx="749.7" cy="682.8" r="2.9" stroke-width="1.7" fill="#fff"/>
<circle cx="769.2" cy="682.8" r="2.9" stroke-width="1.7" fill="#fff"/>
<circle cx="788.9000000000001" cy="682.8" r="2.9" stroke-width="1.7" fill="#fff"/>
<text transform="translate(746.81,701.60) scale(0.1116,0.1420)" font-family="Liberation Sans" font-size="100" fill="#000" stroke="#000" stroke-width="0.5" vector-effect="non-scaling-stroke" stroke-linejoin="round">1</text>
<text transform="translate(764.40,701.60) scale(0.1609,0.1420)" font-family="Liberation Sans" font-size="100" fill="#000" stroke="#000" stroke-width="0.5" vector-effect="non-scaling-stroke" stroke-linejoin="round">2</text>
<text transform="translate(785.56,701.60) scale(0.1723,0.1420)" font-family="Liberation Sans" font-size="100" fill="#000" stroke="#000" stroke-width="0.5" vector-effect="non-scaling-stroke" stroke-linejoin="round">3</text>
<text transform="translate(762.91,747.00) scale(0.1739,0.1681)" font-family="Liberation Sans" font-size="100" fill="#000" stroke="#000" stroke-width="0.5" vector-effect="non-scaling-stroke" stroke-linejoin="round">R5</text>
<polyline points="817.97,649.59 813.37,649.47 815.22,645.25 810.72,644.32 813.28,640.50 809.01,638.78 812.21,635.47 808.32,633.02 812.05,630.34 808.65,627.24 812.80,625.25 810.00,621.60 814.44,620.38 812.33,616.29 816.91,615.88 815.57,611.48 820.15,611.89 819.60,607.32 824.04,608.53 824.31,603.94 828.46,605.92 829.54,601.44 833.27,604.12 835.13,599.92 838.33,603.21 840.90,599.40 843.47,603.21 846.67,599.92 848.53,604.12 852.26,601.44 853.34,605.92 857.49,603.94 857.76,608.53 862.20,607.32 861.65,611.89 866.23,611.48 864.89,615.88 869.47,616.29 867.36,620.38 871.80,621.60 869.00,625.25 873.15,627.24 869.75,630.34 873.48,633.02 869.59,635.47 872.79,638.78 868.52,640.50 871.08,644.32 866.58,645.25 868.43,649.47" stroke-width="2" fill="none"/>
<polyline points="817.97,649.59 816.47,653.30 821.40,653.30 821.40,680.20" stroke-width="2" fill="none"/>
<polyline points="868.43,649.47 867.93,653.30 860.60,653.30 860.60,680.20" stroke-width="2" fill="none"/>
<circle cx="840.9" cy="632" r="2.6" stroke-width="1.7" fill="#fff"/>
<line x1="840.9" y1="634.5" x2="840.9" y2="680.2" stroke-width="2"/>
<line x1="838.9" y1="633.4" x2="817.6999999999999" y2="648" stroke-width="1.8"/>
<polygon points="822.60,644.60 828.65,637.51 831.37,641.47" fill="#000" stroke="none"/>
<circle cx="821.4" cy="682.8" r="2.9" stroke-width="1.7" fill="#fff"/>
<circle cx="840.9" cy="682.8" r="2.9" stroke-width="1.7" fill="#fff"/>
<circle cx="860.6" cy="682.8" r="2.9" stroke-width="1.7" fill="#fff"/>
<text transform="translate(818.51,701.60) scale(0.1116,0.1420)" font-family="Liberation Sans" font-size="100" fill="#000" stroke="#000" stroke-width="0.5" vector-effect="non-scaling-stroke" stroke-linejoin="round">1</text>
<text transform="translate(836.10,701.60) scale(0.1609,0.1420)" font-family="Liberation Sans" font-size="100" fill="#000" stroke="#000" stroke-width="0.5" vector-effect="non-scaling-stroke" stroke-linejoin="round">2</text>
<text transform="translate(857.26,701.60) scale(0.1723,0.1420)" font-family="Liberation Sans" font-size="100" fill="#000" stroke="#000" stroke-width="0.5" vector-effect="non-scaling-stroke" stroke-linejoin="round">3</text>
<text transform="translate(834.07,747.00) scale(0.1667,0.1681)" font-family="Liberation Sans" font-size="100" fill="#000" stroke="#000" stroke-width="0.5" vector-effect="non-scaling-stroke" stroke-linejoin="round">R4</text>
<polyline points="891.07,649.59 886.47,649.47 888.32,645.25 883.82,644.32 886.38,640.50 882.11,638.78 885.31,635.47 881.42,633.02 885.15,630.34 881.75,627.24 885.90,625.25 883.10,621.60 887.54,620.38 885.43,616.29 890.01,615.88 888.67,611.48 893.25,611.89 892.70,607.32 897.14,608.53 897.41,603.94 901.56,605.92 902.64,601.44 906.37,604.12 908.23,599.92 911.43,603.21 914.00,599.40 916.57,603.21 919.77,599.92 921.63,604.12 925.36,601.44 926.44,605.92 930.59,603.94 930.86,608.53 935.30,607.32 934.75,611.89 939.33,611.48 937.99,615.88 942.57,616.29 940.46,620.38 944.90,621.60 942.10,625.25 946.25,627.24 942.85,630.34 946.58,633.02 942.69,635.47 945.89,638.78 941.62,640.50 944.18,644.32 939.68,645.25 941.53,649.47" stroke-width="2" fill="none"/>
<polyline points="891.07,649.59 889.57,653.30 894.50,653.30 894.50,680.20" stroke-width="2" fill="none"/>
<polyline points="941.53,649.47 941.03,653.30 933.70,653.30 933.70,680.20" stroke-width="2" fill="none"/>
<circle cx="914.0" cy="632" r="2.6" stroke-width="1.7" fill="#fff"/>
<line x1="914.0" y1="634.5" x2="914.0" y2="680.2" stroke-width="2"/>
<line x1="912.0" y1="633.4" x2="890.8" y2="648" stroke-width="1.8"/>
<polygon points="895.70,644.60 901.75,637.51 904.47,641.47" fill="#000" stroke="none"/>
<circle cx="894.5" cy="682.8" r="2.9" stroke-width="1.7" fill="#fff"/>
<circle cx="914.0" cy="682.8" r="2.9" stroke-width="1.7" fill="#fff"/>
<circle cx="933.7" cy="682.8" r="2.9" stroke-width="1.7" fill="#fff"/>
<text transform="translate(891.61,701.60) scale(0.1116,0.1420)" font-family="Liberation Sans" font-size="100" fill="#000" stroke="#000" stroke-width="0.5" vector-effect="non-scaling-stroke" stroke-linejoin="round">1</text>
<text transform="translate(909.20,701.60) scale(0.1609,0.1420)" font-family="Liberation Sans" font-size="100" fill="#000" stroke="#000" stroke-width="0.5" vector-effect="non-scaling-stroke" stroke-linejoin="round">2</text>
<text transform="translate(930.36,701.60) scale(0.1723,0.1420)" font-family="Liberation Sans" font-size="100" fill="#000" stroke="#000" stroke-width="0.5" vector-effect="non-scaling-stroke" stroke-linejoin="round">3</text>
<text transform="translate(904.14,747.00) scale(0.1696,0.1681)" font-family="Liberation Sans" font-size="100" fill="#000" stroke="#000" stroke-width="0.5" vector-effect="non-scaling-stroke" stroke-linejoin="round">R3</text>
<polyline points="967.47,649.59 962.87,649.47 964.72,645.25 960.22,644.32 962.78,640.50 958.51,638.78 961.71,635.47 957.82,633.02 961.55,630.34 958.15,627.24 962.30,625.25 959.50,621.60 963.94,620.38 961.83,616.29 966.41,615.88 965.07,611.48 969.65,611.89 969.10,607.32 973.54,608.53 973.81,603.94 977.96,605.92 979.04,601.44 982.77,604.12 984.63,599.92 987.83,603.21 990.40,599.40 992.97,603.21 996.17,599.92 998.03,604.12 1001.76,601.44 1002.84,605.92 1006.99,603.94 1007.26,608.53 1011.70,607.32 1011.15,611.89 1015.73,611.48 1014.39,615.88 1018.97,616.29 1016.86,620.38 1021.30,621.60 1018.50,625.25 1022.65,627.24 1019.25,630.34 1022.98,633.02 1019.09,635.47 1022.29,638.78 1018.02,640.50 1020.58,644.32 1016.08,645.25 1017.93,649.47" stroke-width="2" fill="none"/>
<polyline points="967.47,649.59 965.97,653.30 970.90,653.30 970.90,680.20" stroke-width="2" fill="none"/>
<polyline points="1017.93,649.47 1017.43,653.30 1010.10,653.30 1010.10,680.20" stroke-width="2" fill="none"/>
<circle cx="990.4" cy="632" r="2.6" stroke-width="1.7" fill="#fff"/>
<line x1="990.4" y1="634.5" x2="990.4" y2="680.2" stroke-width="2"/>
<line x1="988.4" y1="633.4" x2="967.1999999999999" y2="648" stroke-width="1.8"/>
<polygon points="972.10,644.60 978.15,637.51 980.87,641.47" fill="#000" stroke="none"/>
<circle cx="970.9" cy="682.8" r="2.9" stroke-width="1.7" fill="#fff"/>
<circle cx="990.4" cy="682.8" r="2.9" stroke-width="1.7" fill="#fff"/>
<circle cx="1010.1" cy="682.8" r="2.9" stroke-width="1.7" fill="#fff"/>
<text transform="translate(968.01,701.60) scale(0.1116,0.1420)" font-family="Liberation Sans" font-size="100" fill="#000" stroke="#000" stroke-width="0.5" vector-effect="non-scaling-stroke" stroke-linejoin="round">1</text>
<text transform="translate(985.60,701.60) scale(0.1609,0.1420)" font-family="Liberation Sans" font-size="100" fill="#000" stroke="#000" stroke-width="0.5" vector-effect="non-scaling-stroke" stroke-linejoin="round">2</text>
<text transform="translate(1006.76,701.60) scale(0.1723,0.1420)" font-family="Liberation Sans" font-size="100" fill="#000" stroke="#000" stroke-width="0.5" vector-effect="non-scaling-stroke" stroke-linejoin="round">3</text>
<text transform="translate(984.54,747.00) scale(0.1696,0.1681)" font-family="Liberation Sans" font-size="100" fill="#000" stroke="#000" stroke-width="0.5" vector-effect="non-scaling-stroke" stroke-linejoin="round">R2</text>
<polyline points="1041.27,649.59 1036.67,649.47 1038.52,645.25 1034.02,644.32 1036.58,640.50 1032.31,638.78 1035.51,635.47 1031.62,633.02 1035.35,630.34 1031.95,627.24 1036.10,625.25 1033.30,621.60 1037.74,620.38 1035.63,616.29 1040.21,615.88 1038.87,611.48 1043.45,611.89 1042.90,607.32 1047.34,608.53 1047.61,603.94 1051.76,605.92 1052.84,601.44 1056.57,604.12 1058.43,599.92 1061.63,603.21 1064.20,599.40 1066.77,603.21 1069.97,599.92 1071.83,604.12 1075.56,601.44 1076.64,605.92 1080.79,603.94 1081.06,608.53 1085.50,607.32 1084.95,611.89 1089.53,611.48 1088.19,615.88 1092.77,616.29 1090.66,620.38 1095.10,621.60 1092.30,625.25 1096.45,627.24 1093.05,630.34 1096.78,633.02 1092.89,635.47 1096.09,638.78 1091.82,640.50 1094.38,644.32 1089.88,645.25 1091.73,649.47" stroke-width="2" fill="none"/>
<polyline points="1041.27,649.59 1039.77,653.30 1044.70,653.30 1044.70,680.20" stroke-width="2" fill="none"/>
<polyline points="1091.73,649.47 1091.23,653.30 1083.90,653.30 1083.90,680.20" stroke-width="2" fill="none"/>
<circle cx="1064.2" cy="632" r="2.6" stroke-width="1.7" fill="#fff"/>
<line x1="1064.2" y1="634.5" x2="1064.2" y2="680.2" stroke-width="2"/>
<line x1="1062.2" y1="633.4" x2="1041.0" y2="648" stroke-width="1.8"/>
<polygon points="1045.90,644.60 1051.95,637.51 1054.67,641.47" fill="#000" stroke="none"/>
<circle cx="1044.7" cy="682.8" r="2.9" stroke-width="1.7" fill="#fff"/>
<circle cx="1064.2" cy="682.8" r="2.9" stroke-width="1.7" fill="#fff"/>
<circle cx="1083.9" cy="682.8" r="2.9" stroke-width="1.7" fill="#fff"/>
<text transform="translate(1041.81,701.60) scale(0.1116,0.1420)" font-family="Liberation Sans" font-size="100" fill="#000" stroke="#000" stroke-width="0.5" vector-effect="non-scaling-stroke" stroke-linejoin="round">1</text>
<text transform="translate(1059.40,701.60) scale(0.1609,0.1420)" font-family="Liberation Sans" font-size="100" fill="#000" stroke="#000" stroke-width="0.5" vector-effect="non-scaling-stroke" stroke-linejoin="round">2</text>
<text transform="translate(1080.56,701.60) scale(0.1723,0.1420)" font-family="Liberation Sans" font-size="100" fill="#000" stroke="#000" stroke-width="0.5" vector-effect="non-scaling-stroke" stroke-linejoin="round">3</text>
<text transform="translate(1054.12,746.80) scale(0.1475,0.1710)" font-family="Liberation Sans" font-size="100" fill="#000" stroke="#000" stroke-width="0.5" vector-effect="non-scaling-stroke" stroke-linejoin="round">R</text>
<text transform="translate(1065.21,746.80) scale(0.1116,0.1710)" font-family="Liberation Sans" font-size="100" fill="#000" stroke="#000" stroke-width="0.5" vector-effect="non-scaling-stroke" stroke-linejoin="round">1</text>
<text transform="translate(810.01,799.10) scale(0.1468,0.1536)" font-family="Liberation Sans" font-size="100" font-weight="bold" fill="#000" stroke="none">CIRCUIT DIAGRAM</text>
</g></svg></body></html>
